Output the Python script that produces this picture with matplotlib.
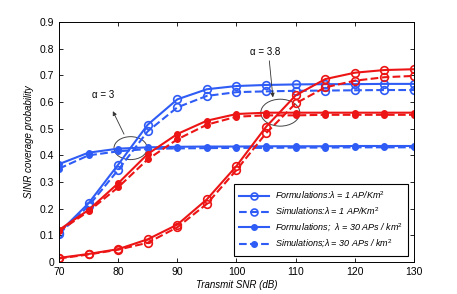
import matplotlib
matplotlib.use('Agg')
import matplotlib.pyplot as plt
from matplotlib.patches import Ellipse

plt.rcParams['font.family'] = ['Liberation Sans', 'DejaVu Sans']
plt.rcParams['mathtext.fontset'] = 'custom'
plt.rcParams['mathtext.rm'] = 'Liberation Sans'
plt.rcParams['mathtext.it'] = 'Liberation Sans:italic'

snr = [70, 75, 80, 85, 90, 95, 100, 105, 110, 115, 120, 125, 130]

# alpha = 3 (blue)
blue_f1 = [0.11, 0.22, 0.365, 0.515, 0.61, 0.648, 0.66, 0.664, 0.666, 0.667, 0.667, 0.668, 0.668]
blue_s1 = [0.105, 0.21, 0.345, 0.49, 0.58, 0.623, 0.637, 0.64, 0.642, 0.643, 0.644, 0.645, 0.645]
blue_f30 = [0.367, 0.41, 0.425, 0.43, 0.432, 0.433, 0.433, 0.434, 0.434, 0.434, 0.435, 0.435, 0.435]
blue_s30 = [0.35, 0.40, 0.415, 0.424, 0.426, 0.427, 0.428, 0.428, 0.429, 0.429, 0.43, 0.43, 0.43]

# alpha = 3.8 (red)
red_f1 = [0.015, 0.03, 0.048, 0.085, 0.14, 0.235, 0.36, 0.507, 0.625, 0.686, 0.71, 0.72, 0.723]
red_s1 = [0.013, 0.028, 0.046, 0.072, 0.13, 0.218, 0.345, 0.483, 0.595, 0.655, 0.68, 0.693, 0.698]
red_f30 = [0.12, 0.195, 0.295, 0.405, 0.48, 0.53, 0.555, 0.56, 0.56, 0.56, 0.56, 0.56, 0.56]
red_s30 = [0.115, 0.19, 0.28, 0.385, 0.46, 0.515, 0.545, 0.55, 0.55, 0.552, 0.552, 0.552, 0.552]

blue = '#2f5cf5'
red = '#ec1414'

fig = plt.figure(figsize=(4.57, 2.94), dpi=100)
ax = fig.add_axes([0.129, 0.109, 0.777, 0.816])

ax.plot(snr, blue_f1, '-', color=blue, marker='o', mfc='none', ms=5.5, mew=1.2, lw=1.5)
ax.plot(snr, blue_s1, '--', color=blue, marker='o', mfc='none', ms=5.5, mew=1.2, lw=1.5)
ax.plot(snr, blue_f30, '-', color=blue, marker='o', ms=4, lw=1.5)
ax.plot(snr, blue_s30, '--', color=blue, marker='o', ms=4, lw=1.5)

ax.plot(snr, red_f1, '-', color=red, marker='o', mfc='none', ms=5.5, mew=1.2, lw=1.5)
ax.plot(snr, red_s1, '--', color=red, marker='o', mfc='none', ms=5.5, mew=1.2, lw=1.5)
ax.plot(snr, red_f30, '-', color=red, marker='o', ms=4, lw=1.5)
ax.plot(snr, red_s30, '--', color=red, marker='o', ms=4, lw=1.5)

# legend entries (blue only, as in the original)
h1, = ax.plot([], [], '-', color=blue, marker='o', mfc='none', ms=5, mew=1.2, lw=1.5)
h2, = ax.plot([], [], '--', color=blue, marker='o', mfc='none', ms=5, mew=1.2, lw=1.5)
h3, = ax.plot([], [], '-', color=blue, marker='o', ms=4, lw=1.5)
h4, = ax.plot([], [], '--', color=blue, marker='o', ms=4, lw=1.5)
leg = ax.legend([h1, h2, h3, h4],
                ['Formulations:\u03bb = 1 AP/Km$^{2}$',
                 'Simulations:\u03bb = 1 AP/Km$^{2}$',
                 'Formulations;  \u03bb = 30 APs / km$^{2}$',
                 'Simulations;\u03bb = 30 APs / km$^{2}$'],
                loc='lower right', bbox_to_anchor=(0.996, 0.008),
                prop={'size': 6.5, 'style': 'italic'}, fancybox=False,
                edgecolor='black', framealpha=1, handlelength=3.3,
                labelspacing=0.5, borderpad=0.6, handletextpad=0.6)
leg.get_frame().set_linewidth(0.8)

# annotations
ax.add_patch(Ellipse((82.1, 0.427), 5.6, 0.086, fill=False, ec='#444444', lw=0.7))
ax.text(77.4, 0.607, '\u03b1 = 3', ha='center', va='bottom', fontsize=7)
ax.annotate('', xy=(78.9, 0.575), xytext=(81.2, 0.47),
            arrowprops=dict(arrowstyle='-|>', color='#333333', lw=0.6, mutation_scale=6))
ax.add_patch(Ellipse((107.4, 0.56), 6.6, 0.101, fill=False, ec='#444444', lw=0.7))
ax.text(104.8, 0.787, '\u03b1 = 3.8', ha='center', va='center', fontsize=7)
ax.annotate('', xy=(106.2, 0.607), xytext=(105.5, 0.765),
            arrowprops=dict(arrowstyle='-|>', color='#333333', lw=0.6, mutation_scale=6))

ax.set_xlim(70, 130)
ax.set_ylim(0, 0.9)
ax.set_xticks(range(70, 131, 10))
ax.set_yticks([0, 0.1, 0.2, 0.3, 0.4, 0.5, 0.6, 0.7, 0.8, 0.9])
ax.set_yticklabels(['0', '0.1', '0.2', '0.3', '0.4', '0.5', '0.6', '0.7', '0.8', '0.9'])
ax.tick_params(direction='in', top=True, right=True, labelsize=7.5, length=3, width=0.6)
for s in ax.spines.values():
    s.set_linewidth(0.7)

ax.set_xlabel('Transmit SNR (dB)', fontsize=7, style='italic', labelpad=2)
ax.set_ylabel('SINR coverage probability', fontsize=7, style='italic', labelpad=4)

fig.savefig('out.png', dpi=100)
plt.close(fig)
